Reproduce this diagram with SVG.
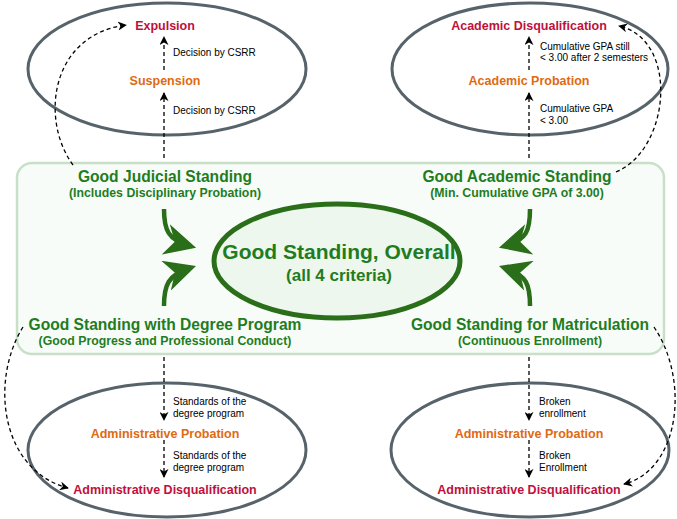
<svg xmlns="http://www.w3.org/2000/svg" width="677" height="519" viewBox="0 0 677 519">
<defs>
<marker id="ah" viewBox="0 0 10 10" refX="9" refY="5" markerWidth="9" markerHeight="9" markerUnits="userSpaceOnUse" orient="auto"><path d="M0,0 L10,5 L0,10 L3,5 Z" fill="#000"/></marker>
<marker id="gh" viewBox="0 0 10 10" refX="8" refY="5" markerWidth="7" markerHeight="7" orient="auto"><path d="M0,0 L10,5 L0,10 L3,5 Z" fill="#2a6e1a"/></marker>
<style>
.ell{fill:none;stroke:#57636a;stroke-width:3}
.t{font-family:"Liberation Sans",Arial,sans-serif;font-weight:bold;text-anchor:middle}
.red{fill:#c0103c;font-size:12.5px}
.org{fill:#e06a10;font-size:12.5px}
.gh{fill:#1f7d1f;font-size:15.6px}
.gs{fill:#1f7d1f;font-size:12.3px}
.lab{font-family:"Liberation Sans",Arial,sans-serif;font-size:10px;fill:#000}
.d{fill:none;stroke:#000;stroke-width:1.3;stroke-dasharray:4,3;marker-end:url(#ah)}
.g{fill:none;stroke:#2a6e1a;stroke-width:4.5;marker-end:url(#gh)}
</style>
</defs>
<rect width="677" height="519" fill="#fff"/>
<g id="box"><rect x="17" y="163" width="647" height="191" rx="15" fill="#f8fcf8" stroke="#c8e0c8" stroke-width="2.5"/></g>
<g id="ell-judicial"><ellipse class="ell" cx="167" cy="69" rx="139" ry="66"/>
<text class="t red" x="165" y="30">Expulsion</text><text class="t org" x="165" y="85">Suspension</text></g>
<g id="ell-academic"><ellipse class="ell" cx="530" cy="69" rx="138" ry="66"/>
<text class="t red" x="529" y="30">Academic Disqualification</text><text class="t org" x="529" y="85">Academic Probation</text></g>
<g id="ell-degree"><ellipse class="ell" cx="167" cy="450" rx="139" ry="67"/>
<text class="t org" x="165" y="438">Administrative Probation</text><text class="t red" x="165" y="494">Administrative Disqualification</text></g>
<g id="ell-matric"><ellipse class="ell" cx="530" cy="450" rx="139" ry="67"/>
<text class="t org" x="529" y="438">Administrative Probation</text><text class="t red" x="529" y="494">Administrative Disqualification</text></g>
<g id="overall"><ellipse cx="337" cy="261" rx="123" ry="57" fill="#eef7ee" stroke="#2a6e1a" stroke-width="5"/>
<text class="t" x="339" y="259" fill="#1f7d1f" font-size="21">Good Standing, Overall</text>
<text class="t" x="339" y="281" fill="#1f7d1f" font-size="17">(all 4 criteria)</text></g>
<g id="gjs"><text class="t gh" x="165" y="182">Good Judicial Standing</text><text class="t gs" x="165" y="197">(Includes Disciplinary Probation)</text></g>
<g id="gas"><text class="t gh" x="517" y="182">Good Academic Standing</text><text class="t gs" x="517" y="197">(Min. Cumulative GPA of 3.00)</text></g>
<g id="gdp"><text class="t gh" x="165" y="330">Good Standing with Degree Program</text><text class="t gs" x="165" y="345">(Good Progress and Professional Conduct)</text></g>
<g id="gsm"><text class="t gh" x="530" y="330">Good Standing for Matriculation</text><text class="t gs" x="530" y="345">(Continuous Enrollment)</text></g>
<g id="connectors">
<path class="g" d="M164,209 C164,230 168,240 190,246"/>
<path class="g" d="M530,209 C530,230 527,240 505,246"/>
<path class="g" d="M164,306 C164,285 168,275 190,268"/>
<path class="g" d="M530,306 C530,285 527,275 505,268"/>
<path class="d" d="M164,158 L164,93"/>
<path class="d" d="M164,70 L164,37"/>
<path class="d" d="M529,158 L529,93"/>
<path class="d" d="M529,70 L529,37"/>
<path class="d" d="M73,165 C40,120 50,35 126,25"/>
<path class="d" d="M616,172 C670,150 680,40 619,26"/>
<path class="d" d="M164,357 L164,420"/>
<path class="d" d="M164,440 L164,477"/>
<path class="d" d="M529,357 L529,420"/>
<path class="d" d="M529,440 L529,477"/>
<path class="d" d="M23,327 C-10,380 0,470 68,488"/>
<path class="d" d="M654,327 C690,380 680,470 624,484"/>
<text class="lab" x="173" y="56">Decision by CSRR</text>
<text class="lab" x="173" y="114">Decision by CSRR</text>
<text class="lab" x="540" y="50">Cumulative GPA still</text>
<text class="lab" x="540" y="61">&lt; 3.00 after 2 semesters</text>
<text class="lab" x="540" y="112">Cumulative GPA</text>
<text class="lab" x="540" y="124">&lt; 3.00</text>
<text class="lab" x="173" y="405">Standards of the</text>
<text class="lab" x="173" y="417">degree program</text>
<text class="lab" x="173" y="459">Standards of the</text>
<text class="lab" x="173" y="471">degree program</text>
<text class="lab" x="539" y="405">Broken</text>
<text class="lab" x="539" y="417">enrollment</text>
<text class="lab" x="539" y="459">Broken</text>
<text class="lab" x="539" y="471">Enrollment</text>
</g>
</svg>
